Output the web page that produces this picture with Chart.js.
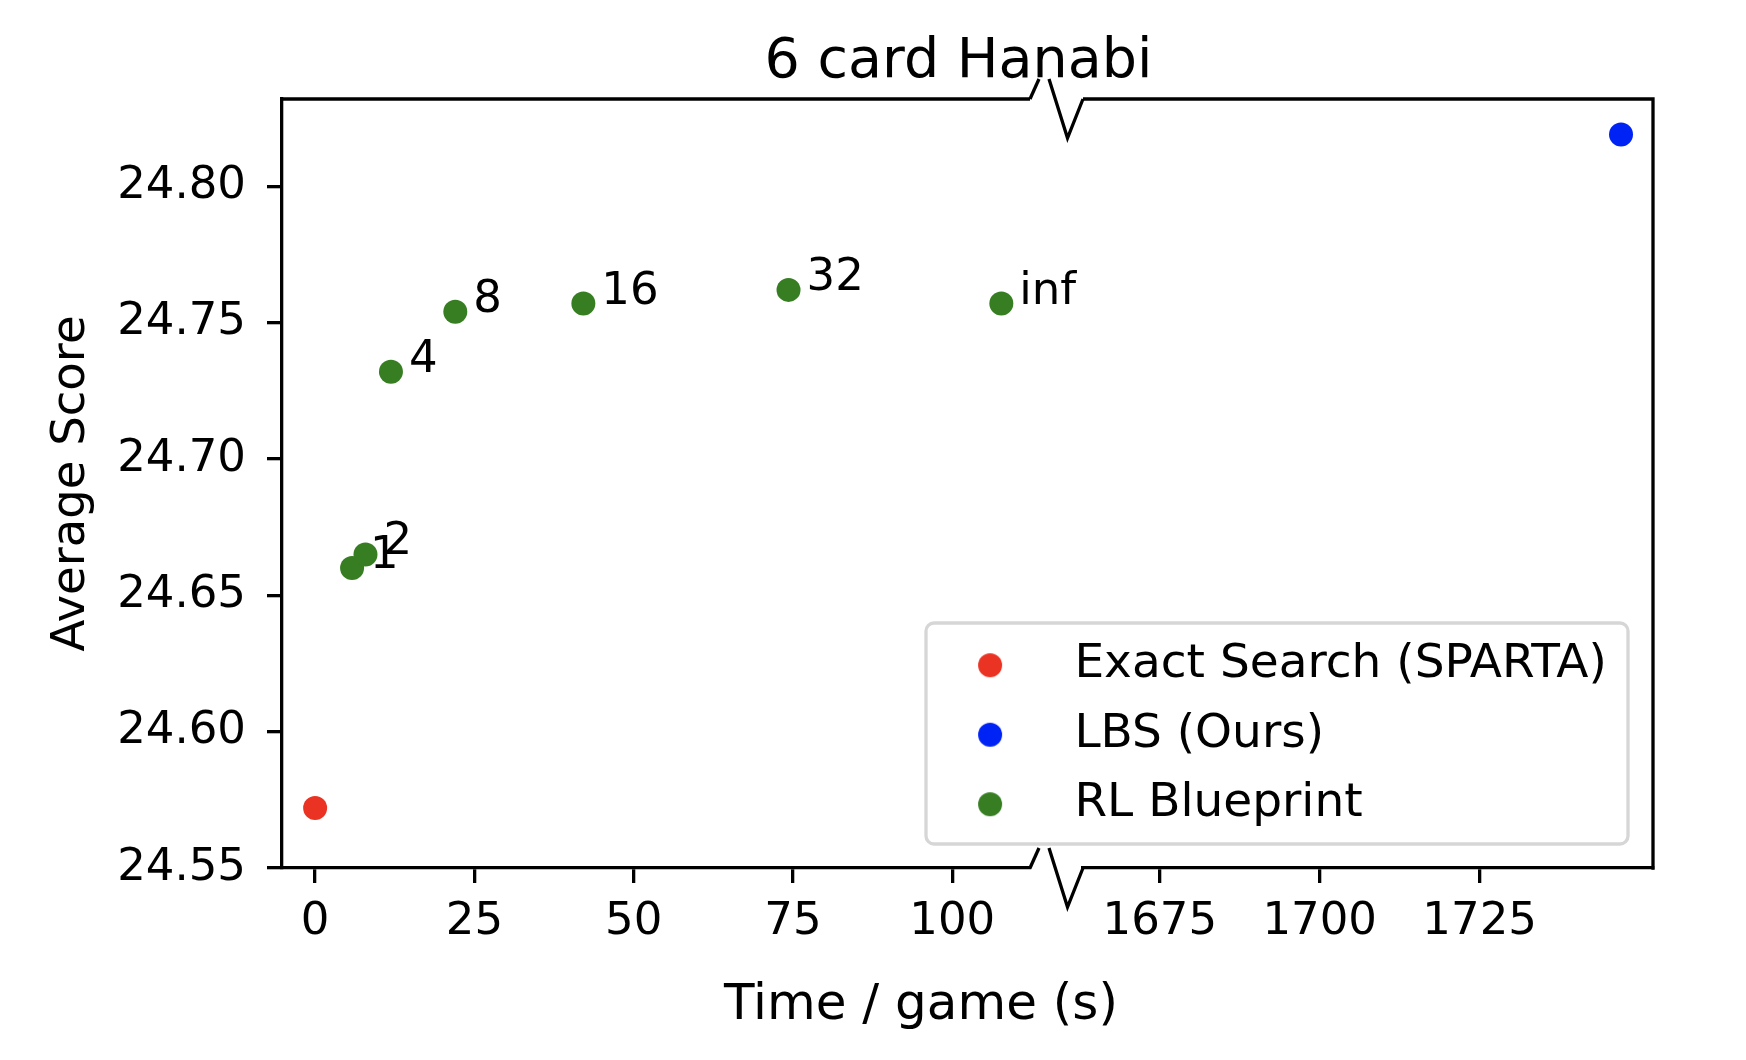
<!DOCTYPE html>
<html>
<head>
<meta charset="utf-8">
<title>6 card Hanabi</title>
<script src="https://cdn.jsdelivr.net/npm/chart.js@4.4.0/dist/chart.umd.min.js"></script>
<style>
  html, body { margin: 0; padding: 0; background: #fff; }
  #wrap { width: 1746px; height: 1060px; }
</style>
</head>
<body>
<div id="wrap"><canvas id="chart" width="1746" height="1060"></canvas></div>
<script>
// ===================================
// DATA
// ===================================

const spartaTime = [0];
const spartaScore = [24.572];

const lbsTime = [1747.1];
const lbsScore = [24.819];

const blueprintTime = [5.8, 7.9, 11.9, 22.0, 42.1, 74.3, 107.7];
const blueprintScore = [24.660, 24.665, 24.732, 24.754, 24.757, 24.762, 24.757];
const blueprintLabels = ['1', '2', '4', '8', '16', '32', 'inf'];

const xTicksLeft = [0, 25, 50, 75, 100];
const xTicksRight = [1675, 1700, 1725];
const yTicks = [24.55, 24.60, 24.65, 24.70, 24.75, 24.80];

// axis limits of the two halves of the broken x axis
const xLimLeft = [-5.2, 112.2];
const xLimRight = [1663.0, 1752.1];
const yLim = [24.55, 24.832];

// ===================================
// LAYOUT / STYLE
// ===================================

const BOX = { left: 282, top: 99, right: 1653, bottom: 868, breakL: 1030, breakR: 1083 };
const LEGEND = { left: 906.8, top: 619.25, frameL: 926, frameT: 623, frameR: 1628, frameB: 844 };
const FONT = 'DejaVu Sans';
const LW = 3.3;

const RED = '#ea3323';
const BLUE = '#0023f5';
const GREEN = '#377e22';

Chart.defaults.font.family = FONT;
Chart.defaults.color = '#000';

function toPoints(xs, ys) {
    return xs.map((x, i) => ({ x: x, y: ys[i] }));
}

// round legend markers (drawn as images so the gap to the text can be set)
function dotImage(color, r) {
    const c = document.createElement('canvas');
    c.width = c.height = 2 * r + 2;
    const g = c.getContext('2d');
    g.fillStyle = color;
    g.beginPath();
    g.arc(r + 1, r + 1, r, 0, Math.PI * 2);
    g.fill();
    return c;
}
const legendDots = [dotImage(RED, 12), dotImage(BLUE, 12), dotImage(GREEN, 12)];

function line(ctx, pts) {
    ctx.beginPath();
    ctx.moveTo(pts[0][0], pts[0][1]);
    for (let i = 1; i < pts.length; i++) ctx.lineTo(pts[i][0], pts[i][1]);
    ctx.stroke();
}

// break marks, relative to a spine at height y
function breakMark(ctx, y) {
    line(ctx, [[BOX.breakL, y], [BOX.breakL + 9, y - 20]]);
    line(ctx, [[BOX.breakL + 19, y - 20], [BOX.breakL + 37.5, y + 39], [BOX.breakR, y]]);
}

// ===================================
// BROKEN AXIS PLUGIN
// ===================================

const brokenAxis = {
    id: 'brokenAxis',
    afterLayout(chart) {
        const xl = chart.scales.x;
        const xr = chart.scales.x2;
        xl.left = BOX.left; xl.right = BOX.breakL; xl.width = BOX.breakL - BOX.left;
        xr.left = BOX.breakR; xr.right = BOX.right; xr.width = BOX.right - BOX.breakR;
        xr.top = xl.top; xr.bottom = xl.bottom; xr.height = xl.height;
        xl.configure();
        xr.configure();

        const lg = chart.legend;
        lg.left = LEGEND.left;
        lg.top = LEGEND.top;
        lg.width = 760;
        lg.height = 300;
        lg.right = lg.left + lg.width;
        lg.bottom = lg.top + lg.height;
    },
    beforeDraw(chart) {
        const ctx = chart.ctx;
        ctx.save();
        ctx.fillStyle = '#fff';
        ctx.fillRect(0, 0, chart.width, chart.height);
        // legend frame
        ctx.beginPath();
        ctx.roundRect(LEGEND.frameL, LEGEND.frameT, LEGEND.frameR - LEGEND.frameL, LEGEND.frameB - LEGEND.frameT, 8);
        ctx.fillStyle = '#fff';
        ctx.fill();
        ctx.lineWidth = LW;
        ctx.strokeStyle = '#d6d6d6';
        ctx.stroke();
        ctx.restore();
    },
    afterDatasetsDraw(chart) {
        const ctx = chart.ctx;
        const xs = chart.scales.x, ys = chart.scales.y;
        ctx.save();
        ctx.font = '45px "' + FONT + '"';
        ctx.fillStyle = '#000';
        ctx.textAlign = 'left';
        ctx.textBaseline = 'alphabetic';
        blueprintLabels.forEach((lab, i) => {
            const px = xs.getPixelForValue(blueprintTime[i]);
            const py = ys.getPixelForValue(blueprintScore[i]);
            ctx.fillText(lab, px + 18, py);
        });
        ctx.restore();
    },
    afterDraw(chart) {
        const ctx = chart.ctx;
        ctx.save();
        ctx.strokeStyle = '#000';
        ctx.lineWidth = LW;
        ctx.lineCap = 'butt';
        // top spine (two pieces) and right spine
        line(ctx, [[BOX.left - LW / 2, BOX.top], [BOX.breakL, BOX.top]]);
        line(ctx, [[BOX.breakR, BOX.top], [BOX.right, BOX.top], [BOX.right, BOX.bottom + LW / 2]]);
        breakMark(ctx, BOX.top);
        breakMark(ctx, BOX.bottom);

        ctx.fillStyle = '#000';
        ctx.textAlign = 'center';
        ctx.textBaseline = 'alphabetic';
        ctx.font = '55.5px "' + FONT + '"';
        ctx.fillText('6 card Hanabi', 958.5, 77);
        ctx.font = '50px "' + FONT + '"';
        ctx.fillText('Time / game (s)', 921, 1019);
        ctx.restore();
    }
};

// ===================================
// CHART
// ===================================

const tickFont = { family: FONT, size: 45 };
const axisGrid = { drawOnChartArea: false, color: '#000', lineWidth: LW, tickLength: 15 };
const axisBorder = { color: '#000', width: LW };

new Chart(document.getElementById('chart'), {
    type: 'scatter',
    data: {
        datasets: [
            {
                label: 'Exact Search (SPARTA)',
                data: toPoints(spartaTime, spartaScore),
                xAxisID: 'x',
                backgroundColor: RED,
                borderWidth: 0,
                pointRadius: 12,
                pointHoverRadius: 12
            },
            {
                label: 'LBS (Ours)',
                data: toPoints(lbsTime, lbsScore),
                xAxisID: 'x2',
                backgroundColor: BLUE,
                borderWidth: 0,
                pointRadius: 12,
                pointHoverRadius: 12
            },
            {
                label: 'RL Blueprint',
                data: toPoints(blueprintTime, blueprintScore),
                xAxisID: 'x',
                backgroundColor: GREEN,
                borderWidth: 0,
                pointRadius: 12,
                pointHoverRadius: 12
            }
        ]
    },
    options: {
        responsive: false,
        animation: false,
        devicePixelRatio: 1,
        events: [],
        layout: { padding: { top: BOX.top, right: 1746 - BOX.right, bottom: 0, left: 0 } },
        plugins: {
            tooltip: { enabled: false },
            title: { display: false },
            legend: {
                display: true,
                position: 'chartArea',
                align: 'start',
                labels: {
                    usePointStyle: true,
                    pointStyleWidth: 121.6,
                    boxHeight: 17,
                    padding: 22.5,
                    color: '#000',
                    font: { family: FONT, size: 47 },
                    generateLabels(chart) {
                        const items = Chart.defaults.plugins.legend.labels.generateLabels(chart);
                        items.forEach((it, i) => { it.pointStyle = legendDots[i]; });
                        return items;
                    }
                }
            }
        },
        scales: {
            x: {
                type: 'linear',
                position: 'bottom',
                min: xLimLeft[0],
                max: xLimLeft[1],
                grid: axisGrid,
                border: axisBorder,
                ticks: {
                    font: tickFont,
                    padding: 12,
                    maxRotation: 0,
                    autoSkip: false,
                    callback: v => String(v)
                },
                afterBuildTicks: axis => { axis.ticks = xTicksLeft.map(v => ({ value: v })); },
                afterFit: axis => { axis.height = 1060 - BOX.bottom; }
            },
            x2: {
                type: 'linear',
                axis: 'x',
                position: 'bottom',
                min: xLimRight[0],
                max: xLimRight[1],
                grid: axisGrid,
                border: axisBorder,
                ticks: {
                    font: tickFont,
                    padding: 12,
                    maxRotation: 0,
                    autoSkip: false,
                    callback: v => String(v)
                },
                afterBuildTicks: axis => { axis.ticks = xTicksRight.map(v => ({ value: v })); },
                afterFit: axis => { axis.height = 0; }
            },
            y: {
                type: 'linear',
                position: 'left',
                min: yLim[0],
                max: yLim[1],
                grid: axisGrid,
                border: axisBorder,
                ticks: {
                    font: tickFont,
                    padding: 21,
                    autoSkip: false,
                    callback: v => Number(v).toFixed(2)
                },
                title: {
                    display: true,
                    text: 'Average Score',
                    color: '#000',
                    font: { family: FONT, size: 46.5 },
                    padding: { top: 44, bottom: 0 }
                },
                afterBuildTicks: axis => { axis.ticks = yTicks.map(v => ({ value: v })); },
                afterFit: axis => { axis.width = BOX.left; }
            }
        }
    },
    plugins: [brokenAxis]
});
</script>
</body>
</html>
